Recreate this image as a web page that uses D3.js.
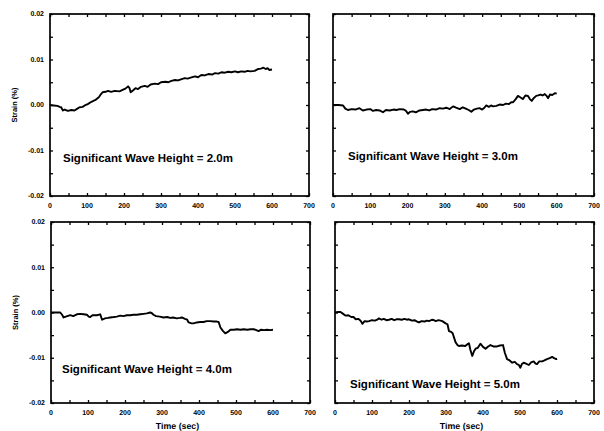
<!DOCTYPE html>
<html><head><meta charset="utf-8">
<script src="https://cdn.jsdelivr.net/npm/d3@7"></script>
<style>
html,body{margin:0;padding:0;background:#fff;}
svg text{font-family:"Liberation Sans",Arial,sans-serif;font-weight:bold;fill:#000;-webkit-font-smoothing:antialiased;text-rendering:geometricPrecision;}
</style></head>
<body>
<svg id="chart" width="604" height="431"></svg>
<script>
// ---- data ----
const xTicks = [0,100,200,300,400,500,600,700];
const yTicks = [-0.02,-0.01,0.00,0.01,0.02];
const yTickLabels = ["-0.02","-0.01","0.00","0.01","0.02"];
const panelLabels = ["Significant Wave Height = 2.0m","Significant Wave Height = 3.0m","Significant Wave Height = 4.0m","Significant Wave Height = 5.0m"];
const xAxisTitle = "Time (sec)";
const yAxisTitle = "Strain (%)";

const time1 = [0,10,20,26,30,35,40,48,58,66,72,80,88,94,102,112,120,126,132,138,142,150,157,165,175,188,196,204,211,215,218,224,231,238,246,256,264,272,283,292,300,312,320,328,338,346,356,364,372,380,392,400,409,418,428,438,446,455,463,472,482,490,500,508,517,526,534,542,553,562,570,577,583,588,593,600];
const strain1 = [0.0000,-0.0001,-0.0002,-0.0004,-0.0005,-0.0012,-0.0010,-0.0013,-0.0011,-0.0012,-0.0009,-0.0005,-0.0004,-0.0001,0.0002,0.0007,0.0010,0.0013,0.0017,0.0024,0.0028,0.0029,0.0031,0.0029,0.0031,0.0030,0.0033,0.0036,0.0041,0.0037,0.0028,0.0032,0.0037,0.0035,0.0040,0.0042,0.0040,0.0045,0.0047,0.0046,0.0050,0.0051,0.0050,0.0053,0.0055,0.0054,0.0057,0.0059,0.0058,0.0060,0.0063,0.0061,0.0066,0.0065,0.0068,0.0067,0.0070,0.0069,0.0072,0.0071,0.0073,0.0072,0.0074,0.0072,0.0074,0.0073,0.0075,0.0074,0.0075,0.0079,0.0080,0.0082,0.0079,0.0081,0.0077,0.0078];

const time2 = [0,15,27,33,40,50,60,71,80,90,100,107,116,125,134,142,152,162,170,179,190,196,201,207,214,222,232,241,250,258,266,276,286,295,304,313,322,330,340,348,356,364,371,378,386,393,400,406,411,418,424,429,438,447,456,464,472,478,483,490,496,502,509,516,523,528,533,538,545,550,557,562,568,573,577,582,588,595,600];
const strain2 = [0.0000,0.0000,-0.0001,-0.0008,-0.0011,-0.0009,-0.0010,-0.0007,-0.0012,-0.0010,-0.0009,-0.0013,-0.0011,-0.0012,-0.0016,-0.0011,-0.0012,-0.0010,-0.0011,-0.0009,-0.0010,-0.0013,-0.0019,-0.0015,-0.0014,-0.0016,-0.0012,-0.0011,-0.0010,-0.0012,-0.0009,-0.0010,-0.0007,-0.0008,-0.0006,-0.0009,-0.0003,-0.0006,-0.0009,-0.0005,-0.0008,-0.0011,-0.0015,-0.0010,-0.0008,-0.0007,-0.0010,-0.0006,-0.0001,-0.0004,-0.0001,-0.0003,-0.0002,0.0001,0.0000,0.0003,0.0002,0.0006,0.0006,0.0013,0.0020,0.0017,0.0013,0.0021,0.0020,0.0013,0.0009,0.0015,0.0020,0.0021,0.0023,0.0021,0.0024,0.0020,0.0015,0.0023,0.0022,0.0026,0.0025];

const time3 = [0,12,25,30,34,40,52,60,70,79,88,97,102,106,112,124,133,138,146,154,160,170,178,187,196,205,214,223,232,241,250,259,268,272,277,284,294,304,314,322,330,340,348,354,362,368,372,380,385,394,403,412,421,430,440,448,453,458,464,471,478,485,494,503,512,521,530,540,548,555,561,568,576,584,592,600];
const strain3 = [0.0000,0.0000,0.0000,-0.0005,-0.0011,-0.0009,-0.0006,-0.0008,-0.0004,-0.0003,-0.0004,-0.0005,-0.0009,-0.0010,-0.0006,-0.0006,-0.0004,-0.0016,-0.0013,-0.0012,-0.0011,-0.0010,-0.0009,-0.0007,-0.0008,-0.0006,-0.0006,-0.0005,-0.0005,-0.0004,-0.0003,-0.0002,0.0000,-0.0001,-0.0005,-0.0008,-0.0009,-0.0011,-0.0010,-0.0012,-0.0011,-0.0013,-0.0012,-0.0011,-0.0014,-0.0016,-0.0022,-0.0024,-0.0024,-0.0022,-0.0021,-0.0021,-0.0019,-0.0019,-0.0020,-0.0020,-0.0021,-0.0033,-0.0040,-0.0046,-0.0043,-0.0038,-0.0038,-0.0037,-0.0038,-0.0037,-0.0038,-0.0037,-0.0037,-0.0039,-0.0041,-0.0038,-0.0039,-0.0038,-0.0039,-0.0038];

const time4 = [0,8,15,22,29,36,44,50,56,63,69,74,80,86,92,100,108,114,119,126,132,139,146,153,160,166,173,180,188,194,200,208,215,222,227,234,242,248,254,262,268,272,280,290,299,304,308,314,318,322,326,331,335,343,352,358,362,366,371,376,380,386,393,400,407,414,420,428,438,446,454,459,465,472,479,486,492,497,501,505,510,516,524,530,537,542,546,552,560,566,573,580,587,592,598,600];
const strain4 = [0.0000,0.0001,0.0001,-0.0003,-0.0007,-0.0006,-0.0010,-0.0010,-0.0015,-0.0014,-0.0018,-0.0025,-0.0019,-0.0020,-0.0019,-0.0017,-0.0018,-0.0016,-0.0013,-0.0016,-0.0014,-0.0017,-0.0016,-0.0014,-0.0017,-0.0015,-0.0015,-0.0016,-0.0014,-0.0016,-0.0015,-0.0018,-0.0017,-0.0020,-0.0022,-0.0019,-0.0020,-0.0018,-0.0019,-0.0016,-0.0017,-0.0019,-0.0017,-0.0019,-0.0024,-0.0026,-0.0041,-0.0043,-0.0046,-0.0056,-0.0066,-0.0072,-0.0074,-0.0073,-0.0074,-0.0070,-0.0068,-0.0083,-0.0096,-0.0085,-0.0080,-0.0078,-0.0069,-0.0076,-0.0080,-0.0075,-0.0072,-0.0075,-0.0075,-0.0073,-0.0072,-0.0089,-0.0103,-0.0106,-0.0111,-0.0109,-0.0114,-0.0116,-0.0122,-0.0114,-0.0111,-0.0113,-0.0116,-0.0110,-0.0108,-0.0113,-0.0114,-0.0108,-0.0108,-0.0106,-0.0103,-0.0101,-0.0098,-0.0101,-0.0103,-0.0102];

// ---- layout ----
const panels = [
  {x0:50, x1:309, y0:14,  y1:196, t:time1, v:strain1, lbl:panelLabels[0], lx:63,  ly:162, yLabels:true,  xTitle:false},
  {x0:333,x1:594, y0:14,  y1:196, t:time2, v:strain2, lbl:panelLabels[1], lx:348, ly:160, yLabels:false, xTitle:false},
  {x0:51, x1:310, y0:222, y1:403, t:time3, v:strain3, lbl:panelLabels[2], lx:62,  ly:373, yLabels:true,  xTitle:true},
  {x0:335,x1:594, y0:222, y1:403, t:time4, v:strain4, lbl:panelLabels[3], lx:350, ly:388, yLabels:false, xTitle:true}
];

const svg = d3.select("#chart");

panels.forEach(p => {
  const x = d3.scaleLinear().domain([0,700]).range([p.x0,p.x1]);
  const y = d3.scaleLinear().domain([-0.02,0.02]).range([p.y1,p.y0]);
  const g = svg.append("g");

  const minorX = d3.range(0,701,50);
  const minorY = d3.range(-0.02,0.0201,0.005);

  const bottom = g.append("g").attr("transform",`translate(0,${p.y1})`)
    .call(d3.axisBottom(x).tickValues(minorX).tickSize(-3).tickFormat(""));
  const top = g.append("g").attr("transform",`translate(0,${p.y0})`)
    .call(d3.axisTop(x).tickValues(minorX).tickSize(-3).tickFormat(""));
  const left = g.append("g").attr("transform",`translate(${p.x0},0)`)
    .call(d3.axisLeft(y).tickValues(minorY).tickSize(-3).tickFormat(""));
  const right = g.append("g").attr("transform",`translate(${p.x1},0)`)
    .call(d3.axisRight(y).tickValues(minorY).tickSize(-3).tickFormat(""));
  [bottom,top,left,right].forEach(a=>{
    a.select(".domain").remove();
    a.selectAll("line").attr("stroke","#000").attr("stroke-width",1.3);
  });

  g.append("rect").attr("x",p.x0).attr("y",p.y0)
    .attr("width",p.x1-p.x0).attr("height",p.y1-p.y0)
    .attr("fill","none").attr("stroke","#000").attr("stroke-width",1.7);

  g.selectAll(".xl").data(xTicks).enter().append("text")
    .attr("x",d=>x(d)).attr("y",p.y1+12)
    .attr("text-anchor","middle").attr("font-size",7)
    .text(d=>d);

  if (p.yLabels) {
    g.selectAll(".yl").data(yTicks).enter().append("text")
      .attr("x",p.x0-6).attr("y",d=>y(d)+2.4)
      .attr("text-anchor","end").attr("font-size",7)
      .text((d,i)=>yTickLabels[i]);
    g.append("text")
      .attr("transform",`translate(${p.x0-33},${(p.y0+p.y1)/2}) rotate(-90)`)
      .attr("text-anchor","middle").attr("font-size",7.5)
      .text(yAxisTitle);
  }
  if (p.xTitle) {
    g.append("text").attr("x",(p.x0+p.x1)/2 - 3).attr("y",429)
      .attr("text-anchor","middle").attr("font-size",8.8)
      .text(xAxisTitle);
  }

  const pts = p.t.map((t,i)=>[t,p.v[i]]);
  g.append("path").datum(pts)
    .attr("fill","none").attr("stroke","#000").attr("stroke-width",1.9)
    .attr("stroke-linejoin","round")
    .attr("d", d3.line().x(d=>x(d[0])).y(d=>y(d[1])));

  g.append("text").attr("x",p.lx).attr("y",p.ly)
    .attr("font-size",11.5).text(p.lbl);
});
</script>
</body></html>
